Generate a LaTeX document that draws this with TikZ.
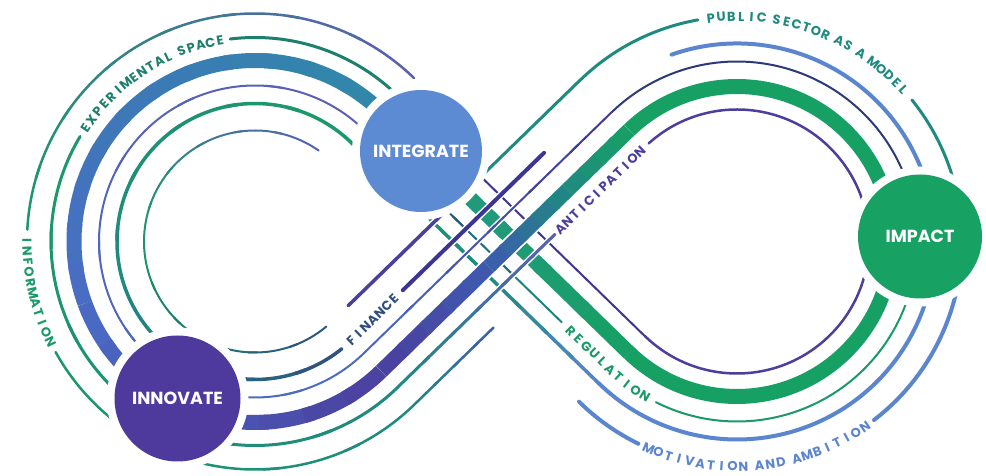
\documentclass[tikz,border=0pt]{standalone}
\usepackage{fontspec}
\setmainfont{Poppins}
\newfontfamily\cfont{Poppins}
\usetikzlibrary{decorations.markings}
\definecolor{cInt}{HTML}{5D8BD3}
\definecolor{cInn}{HTML}{4E3A9C}
\definecolor{cImp}{HTML}{17A263}
\definecolor{cB1}{HTML}{5B86CF}
\definecolor{cB2}{HTML}{4A6CC4}
\definecolor{cB3}{HTML}{3E5BB0}
\definecolor{cV1}{HTML}{5A5FB4}
\definecolor{cT1}{HTML}{1F8A80}
\definecolor{cT2}{HTML}{2F88A8}
\definecolor{cT3}{HTML}{1E7F6E}
\definecolor{cT4}{HTML}{26958B}
\definecolor{cG1}{HTML}{1A9A68}
\definecolor{cG2}{HTML}{17A064}
\definecolor{cN1}{HTML}{2E4F80}
\definecolor{cN2}{HTML}{2B3A78}
\definecolor{cP1}{HTML}{4B3F9E}
\definecolor{cD1}{HTML}{3D3592}
\def\ca{0.6973}
\def\sa{0.7168}
% left arc, gradient: offset, a1, a2, c1, c2, opts, steps
\newcommand{\LAg}[7]{%
  \foreach \k in {1,...,#7}{%
    \pgfmathsetmacro{\aA}{#2+(#3-#2)*(\k-1)/#7}%
    \pgfmathsetmacro{\aB}{#2+(#3-#2)*min(\k+0.2,#7)/#7}%
    \pgfmathtruncatemacro{\pcx}{100*(\k-0.5)/#7}%
    \colorlet{tc}{#5!\pcx!#4}%
    \draw[tc,#6] ({255+(181+(#1))*cos(\aA)},{234.5+(181+(#1))*sin(\aA)}) arc[start angle=\aA,end angle=\aB,radius={181+(#1)}];%
  }}
\newcommand{\RAg}[7]{%
  \foreach \k in {1,...,#7}{%
    \pgfmathsetmacro{\aA}{#2+(#3-#2)*(\k-1)/#7}%
    \pgfmathsetmacro{\aB}{#2+(#3-#2)*min(\k+0.2,#7)/#7}%
    \pgfmathtruncatemacro{\pcx}{100*(\k-0.5)/#7}%
    \colorlet{tc}{#5!\pcx!#4}%
    \draw[tc,#6] ({737+(155-(#1))*cos(\aA)},{234.5+(155-(#1))*sin(\aA)}) arc[start angle=\aA,end angle=\aB,radius={155-(#1)}];%
  }}
\newcommand{\DAg}[7]{%
  \foreach \k in {1,...,#7}{%
    \pgfmathsetmacro{\tA}{#2+(#3-#2)*(\k-1)/#7}%
    \pgfmathsetmacro{\tB}{#2+(#3-#2)*min(\k+0.2,#7)/#7}%
    \pgfmathtruncatemacro{\pcx}{100*(\k-0.5)/#7}%
    \colorlet{tc}{#5!\pcx!#4}%
    \draw[tc,#6] ({255+\ca*(181+(#1))+\sa*\tA},{234.5-\sa*(181+(#1))+\ca*\tA}) -- ({255+\ca*(181+(#1))+\sa*\tB},{234.5-\sa*(181+(#1))+\ca*\tB});%
  }}
\newcommand{\DBg}[7]{%
  \foreach \k in {1,...,#7}{%
    \pgfmathsetmacro{\tA}{#2+(#3-#2)*(\k-1)/#7}%
    \pgfmathsetmacro{\tB}{#2+(#3-#2)*min(\k+0.2,#7)/#7}%
    \pgfmathtruncatemacro{\pcx}{100*(\k-0.5)/#7}%
    \colorlet{tc}{#5!\pcx!#4}%
    \draw[tc,#6] ({255+\ca*(181+(#1))+\sa*\tA},{234.5+\sa*(181+(#1))-\ca*\tA}) -- ({255+\ca*(181+(#1))+\sa*\tB},{234.5+\sa*(181+(#1))-\ca*\tB});%
  }}
% white halo under a diagonal-A piece
\newcommand{\DAh}[4]{\draw[white,line width=#4] ({255+\ca*(181+(#1))+\sa*(#2)},{234.5-\sa*(181+(#1))+\ca*(#2)}) -- ({255+\ca*(181+(#1))+\sa*(#3)},{234.5-\sa*(181+(#1))+\ca*(#3)});}
% letter-spaced label along a path: colour, spacing, path length, letters, path
\newdimen\lblw \newdimen\lblacc \newdimen\lbltot
\newbox\lblbox
\def\usc{_}
\newcommand{\lblfnt}{\cfont\bfseries\fontsize{13}{15}\selectfont}
\newcommand{\lblmeasure}[1]{%
  \ifx#1\usc\setbox\lblbox=\hbox{\lblfnt\ }\else\setbox\lblbox=\hbox{\lblfnt#1}\fi
  \global\lblw=\wd\lblbox
  \ifdim\lblw<1pt \ifx#1\usc\global\lblw=3.5pt\else\global\lblw=8.8pt\fi\fi}
\newcommand{\slabel}[5]{%
  \global\lbltot=0pt
  \foreach \ch in {#4}{%
    \lblmeasure{\ch}%
    \global\advance\lbltot by \lblw
    \global\advance\lbltot by #2pt
  }%
  \global\advance\lbltot by -#2pt
  \pgfmathsetlength{\lblacc}{(#3pt-\lbltot)/2}%
  \global\lblacc=\lblacc
  \foreach \ch in {#4}{%
    \lblmeasure{\ch}%
    \pgfmathsetmacro{\posx}{\lblacc+0.5*\lblw}%
    \ifx\ch\usc\else
      \path[decorate,decoration={markings,mark=at position \posx pt with {\node[transform shape,inner sep=0pt,text=#1,font=\lblfnt]{\ch};}}] #5;%
    \fi
    \global\advance\lblacc by \lblw
    \global\advance\lblacc by #2pt
  }}
\tikzset{
  band/.style={line width=15pt},
  wa/.style={line width=2pt,line cap=round},
  wb/.style={line width=2.5pt,line cap=round},
  wc/.style={line width=3pt,line cap=round},
  wd/.style={line width=3.5pt,line cap=round},
  we/.style={line width=4pt,line cap=round},
  bubble/.style={circle,inner sep=0pt,text=white,font=\cfont\bfseries\fontsize{17.5}{19}\selectfont}
}
\begin{document}
\begin{tikzpicture}[x=1pt,y=1pt]
\useasboundingbox (0,0) rectangle (986,476);
\fill[white] (0,0) rectangle (986,476);
% ---------- layer 1: arcs and diagonal B ----------
\DBg{0}{345.6}{0}{cG2}{cT4}{band}{6}
\LAg{0}{45.81}{200}{cT2}{cB2}{band}{12}
\LAg{0}{200}{314.19}{cB2}{cP1}{band}{8}
\RAg{0}{134.19}{-134.19}{cG2}{cG2}{band}{1}
% +47
\LAg{47}{45.81}{177}{cV1}{cG1}{wb}{8}
\LAg{47}{209}{314.19}{cG1}{cT1}{wb}{5}
% +23
\LAg{23}{45.81}{97}{cT3}{cT3}{wc}{1}
\LAg{23}{149}{314.19}{cG1}{cT1}{wc}{6}
\RAg{23}{132}{-134.19}{cP1}{cP1}{wb}{1}
\DBg{23}{345.6}{0}{cD1}{cD1}{wa}{1}
% -25
\LAg{-25}{45.81}{314.19}{cV1}{cB2}{wa}{8}
\RAg{-25}{134.19}{20}{cN2}{cN2}{wa}{1}
\RAg{-25}{20}{-116.8}{cG1}{cG1}{wa}{1}
\DBg{-25}{276}{0}{cT1}{cN2}{wa}{4}
% -43
\LAg{-43}{45.81}{200}{cG1}{cT1}{wd}{6}
\LAg{-43}{200}{309}{cT1}{cN1}{wd}{5}
\RAg{-43}{109.3}{-134.19}{cB1}{cB1}{we}{1}
\DBg{-43}{345.6}{200}{cB1}{cT1}{wd}{4}
\DBg{-43}{200}{0}{cT1}{cG1}{wd}{4}
% -70
\LAg{-70}{55}{180}{cV1}{cG1}{wa}{6}
\LAg{-70}{180}{310}{cG1}{cN1}{wa}{6}
\RAg{-70}{134.19}{100}{cT1}{cT1}{wc}{1}
\RAg{-70}{39}{5}{cT1}{cT1}{wc}{1}
\RAg{-70}{5}{-52.5}{cB1}{cB1}{we}{1}
\RAg{-70}{-116}{-134.6}{cB1}{cB1}{we}{1}
% ---------- layer 2: diagonal A (over) ----------
\DAh{0}{0}{345.6}{18.5pt}
\DAh{47}{0}{111}{5.5pt}
\DAh{23}{0}{220}{6pt}
\DAh{-25}{0}{345.6}{5pt}
\DAh{-43}{72}{269}{7pt}
\DAh{-70}{22}{160}{6.5pt}
\DAh{-70}{205}{345.6}{6pt}
\DAg{0}{0}{150}{cP1}{cB3}{band}{5}
\DAg{0}{150}{260}{cB3}{cT1}{band}{5}
\DAg{0}{260}{345.6}{cT1}{cG2}{band}{4}
\DAg{47}{0}{111}{cT1}{cB3}{wb}{4}
\DAg{23}{0}{220}{cT1}{cV1}{wc}{6}
\DAg{-25}{0}{345.6}{cB2}{cD1}{wa}{6}
\DAg{-43}{72}{269}{cD1}{cD1}{we}{1}
\DAg{-70}{22}{160}{cP1}{cP1}{wd}{1}
\DAg{-70}{205}{345.6}{cT1}{cT1}{wc}{1}
% ---------- layer 3: labels on the strands ----------
\slabel{cT3}{1.2}{192.3}{E,X,P,E,R,I,M,E,N,T,A,L,_,S,P,A,C,E}{({255+204*cos(150)},{234.5+204*sin(150)}) arc[start angle=150,end angle=96,radius=204]}
\slabel{cG1}{1.7}{143.3}{I,N,F,O,R,M,A,T,I,O,N}{({255+228*cos(175)},{234.5+228*sin(175)}) arc[start angle=175,end angle=211,radius=228]}
\slabel{cN1}{1.1}{84.5}{F,I,N,A,N,C,E}{({255+138*cos(309)},{234.5+138*sin(309)}) arc[start angle=309,end angle=314.19,radius=138] -- ({255+\ca*138+\sa*72},{234.5-\sa*138+\ca*72})}
\slabel{cP1}{1.3}{126}{A,N,T,I,C,I,P,A,T,I,O,N}{({255+\ca*204+\sa*220},{234.5-\sa*204+\ca*220}) -- ({255+\ca*204+\sa*346},{234.5-\sa*204+\ca*346})}
\slabel{cG1}{2.2}{124.2}{R,E,G,U,L,A,T,I,O,N}{({255+\ca*156+\sa*276},{234.5+\sa*156-\ca*276}) -- ({255+\ca*156+\sa*345.6},{234.5+\sa*156-\ca*345.6}) arc[start angle=-134.19,end angle=-116.8,radius=180]}
\slabel{cT1}{1.4}{247.4}{P,U,B,L,I,C,_,S,E,C,T,O,R,_,A,S,_,A,_,M,O,D,E,L}{({737+225*cos(101)},{234.5+225*sin(101)}) arc[start angle=101,end angle=38,radius=225]}
\slabel{cB1}{2.0}{257.2}{M,O,T,I,V,A,T,I,O,N,_,A,N,D,_,A,M,B,I,T,I,O,N}{({737+225*cos(-117)},{234.5+225*sin(-117)}) arc[start angle=-117,end angle=-51.5,radius=225]}
% ---------- layer 4: circles ----------
\fill[white] (421,325) circle (69);
\fill[white] (177.5,77.5) circle (71);
\fill[white] (920,239.5) circle (70);
\node[bubble,fill=cInt,minimum size=122pt] (integrate) at (421,325) {INTEGRATE};
\node[bubble,fill=cInn,minimum size=126pt] (innovate) at (177.5,77.5) {INNOVATE};
\node[bubble,fill=cImp,minimum size=124pt] (impact) at (920,239.5) {IMPACT};
\end{tikzpicture}
\end{document}
